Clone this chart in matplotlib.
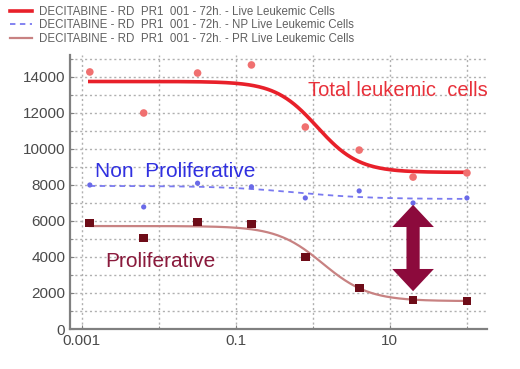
import numpy as np
import matplotlib
matplotlib.use("Agg")
import matplotlib.pyplot as plt
from matplotlib.ticker import FixedLocator, NullFormatter, FixedFormatter

plt.rcParams['font.family'] = ['Liberation Sans', 'DejaVu Sans']

# ---- data ----
conc = [0.00128, 0.0064, 0.032, 0.16, 0.8, 4.0, 20.0, 100.0]
total_cells = [14280, 12000, 14220, 14670, 11220, 9940, 8440, 8670]
np_cells = [8000, 6780, 8100, 7900, 7280, 7670, 7000, 7280]
pr_cells = [5890, 5050, 5940, 5830, 4000, 2280, 1610, 1560]

# 4PL fit parameters (top, bottom, ec50, hill)
total_fit = (13750, 8700, 1.14, 1.6)
np_fit = (7950, 7220, 0.6, 0.9)
pr_fit = (5720, 1550, 1.35, 1.45)

legend_labels = [
    "DECITABINE - RD  PR1  001 - 72h. - Live Leukemic Cells",
    "DECITABINE - RD  PR1  001 - 72h. - NP Live Leukemic Cells",
    "DECITABINE - RD  PR1  001 - 72h. - PR Live Leukemic Cells",
]
xtick_vals = [0.001, 0.1, 10]
xtick_labels = ["0.001", "0.1", "10"]
ytick_vals = [0, 2000, 4000, 6000, 8000, 10000, 12000, 14000]


def four_pl(x, top, bottom, ec50, hill):
    return bottom + (top - bottom) / (1.0 + (x / ec50) ** hill)


fig = plt.figure(figsize=(5.2, 3.69), dpi=100)
ax = fig.add_axes([0.1346, 0.1084, 0.8019, 0.7415])

xs = np.logspace(np.log10(conc[0]), np.log10(conc[-1]), 300)

red = '#e8202a'
blue = '#7a7af0'
pr_line = '#c88282'
maroon = '#6e0c18'

l1, = ax.plot(xs, four_pl(xs, *total_fit), color=red, lw=2.6, zorder=4)
l2, = ax.plot(xs, four_pl(xs, *np_fit), color=blue, lw=1.3, ls=(0, (3, 2.5)), zorder=4)
l3, = ax.plot(xs, four_pl(xs, *pr_fit), color=pr_line, lw=1.6, zorder=4)

ax.scatter(conc, total_cells, s=30, color='#f07070', zorder=5, edgecolors='none')
ax.scatter(conc, np_cells, s=14, color='#6a6ae8', zorder=5, edgecolors='none')
ax.scatter(conc, pr_cells, s=40, marker='s', color=maroon, zorder=5, edgecolors='none')

ax.set_xscale('log')
ax.set_xlim(10 ** -3.15, 10 ** 2.26)
ax.set_ylim(0, 15200)

ax.xaxis.set_major_locator(FixedLocator(xtick_vals))
ax.xaxis.set_major_formatter(FixedFormatter(xtick_labels))
ax.xaxis.set_minor_locator(FixedLocator([0.001, 0.01, 0.1, 1, 10, 100]))
ax.xaxis.set_minor_formatter(NullFormatter())
ax.yaxis.set_major_locator(FixedLocator(ytick_vals))
ax.yaxis.set_minor_locator(FixedLocator(np.arange(0, 15001, 1000)))

ax.grid(True, which='minor', axis='both', color='#b0b0b0', ls=(0, (1.5, 2)), lw=1.0)
ax.grid(True, which='major', axis='both', color='#b0b0b0', ls=(0, (1.5, 2)), lw=1.0)

for s in ['top', 'right']:
    ax.spines[s].set_visible(False)
for s in ['left', 'bottom']:
    ax.spines[s].set_color('#808080')
    ax.spines[s].set_linewidth(1.6)
ax.tick_params(axis='both', which='major', labelsize=11, colors='#808080',
               labelcolor='#4a4a4a', length=3, direction='in')
ax.tick_params(axis='both', which='minor', colors='#808080', length=2, direction='in')

# annotations
ax.text(0.57, 0.87, "Total leukemic  cells", transform=ax.transAxes, color='#e8303a',
        fontsize=14.5, va='center', ha='left')
ax.text(0.06, 0.575, "Non  Proliferative", transform=ax.transAxes, color='#3030e0',
        fontsize=15, va='center', ha='left')
ax.text(0.085, 0.245, "Proliferative", transform=ax.transAxes, color='#8a1a3c',
        fontsize=15, va='center', ha='left')

arrow_x = 20
arrow_top, arrow_mid, arrow_bot = 6900, 4500, 2100
arrow_style = 'simple,head_length=1.6,head_width=3.0,tail_width=0.95'
for tip in (arrow_top, arrow_bot):
    ax.annotate('', xy=(arrow_x, tip), xytext=(arrow_x, arrow_mid),
                arrowprops=dict(arrowstyle=arrow_style, mutation_scale=10,
                                color='#8c0a3c', shrinkA=0, shrinkB=0, lw=0),
                zorder=6)

fig.legend([l1, l2, l3], legend_labels, loc='upper left', bbox_to_anchor=(0.0, 1.012),
           frameon=False, fontsize=8.3, handlelength=1.9, labelspacing=0.12,
           handletextpad=0.6, labelcolor='#606060')

fig.savefig('out.png', dpi=100)
